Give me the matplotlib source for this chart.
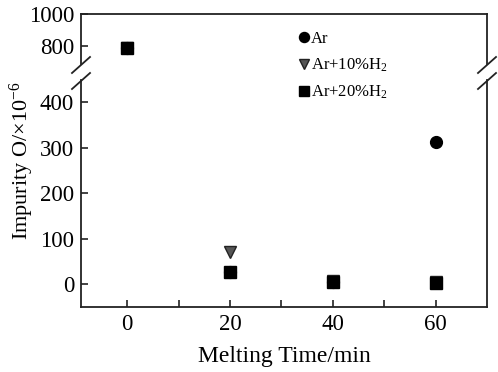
import numpy as np
import matplotlib
matplotlib.use("Agg")
import matplotlib.pyplot as plt

plt.rcParams['font.family'] = ['Liberation Serif', 'DejaVu Serif']
plt.rcParams['mathtext.fontset'] = 'custom'
plt.rcParams['mathtext.rm'] = 'Liberation Serif'
plt.rcParams['mathtext.default'] = 'regular'

# Data
times = [0, 20, 40, 60]
ar = [790, 27, 5, 312]
ar_10h2 = [790, 70, 8, 5]
ar_20h2 = [790, 27, 4, 3]
labels = ['Ar', 'Ar+10%H$_2$', 'Ar+20%H$_2$']
yticks = [0, 100, 200, 300, 400, 800, 1000]
xticks = [0, 20, 40, 60]

# Broken y scale
B_LOW, B_HIGH, R = 466.0, 637.0, 0.16 / 0.455

def fwd(v):
    v = np.asarray(v, dtype=float)
    return np.where(v <= B_LOW, v,
                    np.where(v >= B_HIGH, B_LOW + (v - B_HIGH) * R, B_LOW))

def inv(u):
    u = np.asarray(u, dtype=float)
    return np.where(u <= B_LOW, u, B_HIGH + (u - B_LOW) / R)

fig = plt.figure(figsize=(4.98, 3.72), dpi=100)
ax = fig.add_axes([81/498, 65/372, 406/498, 293/372])
ax.set_yscale('function', functions=(fwd, inv))
ax.set_ylim(-50, 1000)
ax.set_xlim(-9, 70)

ax.plot(times, ar, 'o', color='black', markersize=8.5, zorder=3, label=labels[0])
ax.plot(times, ar_10h2, 'v', markerfacecolor='#555555', markeredgecolor='#222222',
        markersize=8, zorder=4, label=labels[1])
ax.plot(times, ar_20h2, 's', color='black', markersize=8.5, zorder=5, label=labels[2])

ax.set_yticks(yticks)
ax.set_yticklabels([str(t) for t in yticks])
ax.set_xticks(xticks)
ax.set_xticks([10, 30, 50], minor=True)
ax.yaxis.set_minor_locator(matplotlib.ticker.NullLocator())
ax.tick_params(axis='both', which='both', direction='in', length=5, width=1.2,
               labelsize=16.5, pad=5, colors='#222222', labelcolor='black')
ax.tick_params(axis='x', pad=5)

for s in ['left', 'right']:
    ax.spines[s].set_visible(False)
for s in ['top', 'bottom']:
    ax.spines[s].set_linewidth(1.3)
    ax.spines[s].set_color('#222222')

# manual side spines with break
g_lo, g_hi = (307-80)/293, (307-64)/293
for x in [0, 1]:
    ax.plot([x, x], [0, g_lo], transform=ax.transAxes, color='#222222', lw=1.3, clip_on=False)
    ax.plot([x, x], [g_hi, 1], transform=ax.transAxes, color='#222222', lw=1.3, clip_on=False)
    dx = 9/406
    for yc in [(307-65)/293, (307-81)/293]:
        dy = 8/293
        ax.plot([x - dx, x + dx], [yc - dy, yc + dy], transform=ax.transAxes,
                color='#222222', lw=1.3, clip_on=False)

ax.set_xlabel('Melting Time/min', fontsize=17, labelpad=8)
ax.set_ylabel('Impurity O/×10$^{-6}$', fontsize=16)
ax.yaxis.set_label_coords(-0.111, 0.5)

ax.legend(frameon=False, loc='upper left', bbox_to_anchor=(0.52, 0.965),
          handlelength=0.6, handletextpad=0.15, labelspacing=0.59, fontsize=12,
          markerscale=0.85, borderaxespad=0)

fig.savefig('out.png', dpi=100)
